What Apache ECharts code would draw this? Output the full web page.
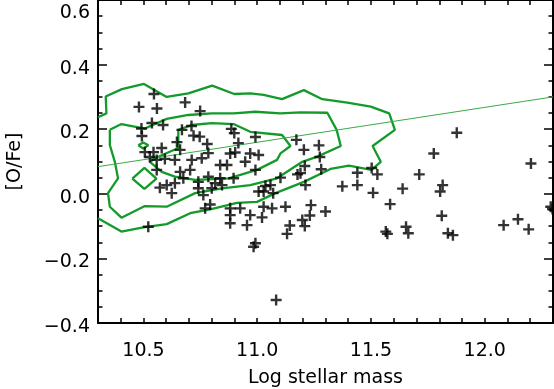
<!DOCTYPE html>
<html>
<head>
<meta charset="utf-8">
<script src="https://cdn.jsdelivr.net/npm/echarts@6/dist/echarts.min.js"></script>
<style>
html,body{margin:0;padding:0;background:#fff;}
#chart{width:554px;height:389px;}
</style>
</head>
<body>
<div id="chart"></div>
<script>
// ---- data ----
const xTickLabels = ['10.5', '11.0', '11.5', '12.0'];
const yTickLabels = ['−0.4', '−0.2', '0.0', '0.2', '0.4', '0.6'];

// galaxies: log stellar mass and [O/Fe]
const logMass = [
  10.546, 10.480, 10.559, 10.683, 10.749, 10.537, 10.586, 10.491, 10.493, 10.647,
  10.669, 10.711, 10.720, 10.747, 10.780, 10.886, 10.899, 10.917, 10.992, 10.580,
  10.506, 10.528, 10.544, 10.558, 10.594, 10.638, 10.661, 10.558, 10.712, 10.756,
  10.785, 10.837, 10.867, 10.881, 10.903, 10.947, 10.969, 11.006, 10.661, 10.705,
  10.675, 10.572, 10.602, 10.638, 10.624, 10.741, 10.785, 10.815, 10.837, 10.845,
  10.800, 10.741, 10.763, 10.896, 10.992, 10.771, 10.793, 10.881, 10.881, 10.881,
  10.925, 10.969, 10.955, 10.521, 11.006, 11.028, 11.036, 11.058, 11.070, 11.028,
  11.021, 11.065, 11.124, 11.143, 11.131,
  11.172, 11.205, 11.271, 11.275, 11.209, 11.281, 11.177, 11.190, 11.102, 11.212,
  11.374, 11.440, 11.440, 11.503, 11.528, 11.509, 11.639, 11.712, 11.776, 11.877,
  11.815, 11.804, 11.584, 11.811, 11.236, 11.300, 11.231, 11.198, 11.209, 11.565,
  11.572, 11.654, 11.664, 11.838, 11.860, 12.083, 12.146, 12.193, 12.203, 12.290,
  12.298, 10.984, 10.992, 11.083
];
const oFe = [
  0.309, 0.269, 0.264, 0.283, 0.256, 0.219, 0.213, 0.202, 0.179, 0.160,
  0.198, 0.210, 0.180, 0.177, 0.154, 0.201, 0.188, 0.157, 0.176, 0.142,
  0.129, 0.114, 0.129, 0.105, 0.108, 0.105, 0.136, 0.074, 0.105, 0.110,
  0.126, 0.089, 0.089, 0.125, 0.128, 0.099, 0.125, 0.120, 0.068, 0.074,
  0.048, 0.019, 0.027, 0.033, 0.002, 0.037, 0.053, 0.033, 0.048, 0.027,
  0.017, 0.017, -0.004, 0.048, 0.074, -0.045, -0.033, -0.045, -0.066, -0.091,
  -0.045, -0.066, -0.097, -0.102, 0.007, 0.007, 0.024, 0.027, 0.002, -0.040,
  -0.073, -0.045, -0.040, -0.098, -0.124,
  0.167, 0.136, 0.150, 0.114, 0.086, 0.076, 0.060, 0.064, 0.050, 0.027,
  0.023, 0.027, 0.065, 0.080, 0.060, 0.003, 0.016, 0.060, 0.125, 0.189,
  0.027, 0.007, -0.032, -0.068, -0.035, -0.055, -0.067, -0.081, -0.100, -0.117,
  -0.124, -0.102, -0.122, -0.122, -0.128, -0.097, -0.079, -0.110, 0.094, -0.040,
  -0.047, -0.164, -0.153, -0.329
];

// density contours of the comparison sample (mass, [O/Fe])
const contourOuter = [
  [10.300, 0.237], [10.337, 0.249], [10.334, 0.301], [10.405, 0.324], [10.502, 0.340],
  [10.602, 0.300], [10.697, 0.311], [10.802, 0.335], [10.899, 0.309], [10.969, 0.311],
  [11.028, 0.306], [11.109, 0.293], [11.205, 0.321], [11.286, 0.293], [11.396, 0.282],
  [11.499, 0.270], [11.580, 0.249], [11.605, 0.198], [11.507, 0.148], [11.543, 0.099],
  [11.502, 0.074], [11.403, 0.087], [11.322, 0.077], [11.205, 0.037], [11.080, 0.002],
  [10.999, -0.025], [10.911, -0.028], [10.793, -0.048], [10.705, -0.060], [10.602, -0.094],
  [10.499, -0.104], [10.403, -0.117], [10.300, -0.076]
];
const contourMiddle = [
  [10.352, 0.198], [10.403, 0.216], [10.506, 0.202], [10.602, 0.232], [10.697, 0.244],
  [10.800, 0.249], [10.896, 0.249], [10.992, 0.254], [11.102, 0.249], [11.190, 0.252],
  [11.308, 0.251], [11.349, 0.198], [11.367, 0.148], [11.264, 0.115], [11.198, 0.099],
  [11.087, 0.048], [10.969, 0.027], [10.845, 0.017], [10.727, 0.002], [10.602, -0.040],
  [10.506, -0.038], [10.403, -0.074], [10.352, -0.040], [10.344, 0.002], [10.388, 0.048],
  [10.374, 0.099], [10.352, 0.151], [10.352, 0.198]
];
const contourInner = [
  [10.653, 0.198], [10.712, 0.213], [10.800, 0.219], [10.896, 0.216], [10.969, 0.192],
  [11.109, 0.182], [11.146, 0.148], [11.102, 0.125], [11.087, 0.105], [10.999, 0.074],
  [10.874, 0.048], [10.727, 0.043], [10.638, 0.053], [10.580, 0.068], [10.528, 0.099],
  [10.563, 0.114], [10.653, 0.142], [10.653, 0.198]
];
const islandA = [[10.451, 0.047], [10.504, 0.080], [10.557, 0.047], [10.504, 0.015], [10.451, 0.047]];
const islandB = [[10.477, 0.150], [10.499, 0.159], [10.521, 0.150], [10.499, 0.140], [10.477, 0.150]];

// linear relation
const fitLine = [[10.3, 0.084], [12.3, 0.300]];

// ---- chart ----
const FONT = 'DejaVu Sans';
const GREEN = '#149a2b';
const plus = 'path://M4.3,0H6.7V4.3H11V6.7H6.7V11H4.3V6.7H0V4.3H4.3Z';

const points = logMass.map((m, i) => [m, oFe[i]]);

function contour(data) {
  return {
    type: 'line', data: data, showSymbol: false, symbol: 'none', silent: true,
    lineStyle: { color: GREEN, width: 2.3 }, z: 3, clip: true
  };
}

const axisLineStyle = { color: '#000', width: 2 };

const chart = echarts.init(document.getElementById('chart'), null, { renderer: 'canvas' });
chart.setOption({
  animation: false,
  backgroundColor: '#fff',
  grid: { left: 98, right: 1, top: 0, bottom: 66, containLabel: false, outerBoundsMode: 'none' },
  xAxis: [
    {
      type: 'value', position: 'bottom', min: 10.3, max: 12.3, interval: 0.1,
      axisLine: { show: true, onZero: false, lineStyle: axisLineStyle },
      axisTick: { show: true, inside: true, length: 5, lineStyle: { color: '#000', width: 1.5 } },
      splitLine: { show: false },
      axisLabel: {
        margin: 19, color: '#000', fontFamily: FONT, fontSize: 19,
        showMinLabel: true, showMaxLabel: true,
        formatter: function (v) {
          const s = (Math.round(v * 10) / 10).toFixed(1);
          return xTickLabels.indexOf(s) >= 0 ? s : '';
        }
      },
      name: 'Log stellar mass', nameLocation: 'middle', nameGap: 46,
      nameTextStyle: { color: '#000', fontFamily: FONT, fontSize: 19 }
    },
    {
      type: 'value', position: 'top', min: 10.3, max: 12.3, interval: 0.1,
      axisLine: { show: true, onZero: false, lineStyle: axisLineStyle },
      axisTick: { show: true, inside: true, length: 5, lineStyle: { color: '#000', width: 1.5 } },
      splitLine: { show: false }, axisLabel: { show: false }
    }
  ],
  yAxis: [
    {
      type: 'value', position: 'left', min: -0.4, max: 0.6, interval: 0.2,
      axisLine: { show: true, onZero: false, lineStyle: axisLineStyle },
      axisTick: { show: true, inside: true, length: 9, lineStyle: { color: '#000', width: 1.5 } },
      minorTick: { show: true, splitNumber: 4, length: 4.5, lineStyle: { color: '#000', width: 1.5 } },
      splitLine: { show: false }, minorSplitLine: { show: false },
      axisLabel: {
        margin: 8, color: '#000', fontFamily: FONT, fontSize: 19,
        formatter: function (v) {
          const idx = Math.round((v + 0.4) / 0.2);
          const s = yTickLabels[idx];
          return idx === yTickLabels.length - 1 ? '{t|' + s + '}' : '{n|' + s + '}';
        },
        rich: {
          t: { fontFamily: FONT, fontSize: 19, color: '#000', padding: [26, 0, 0, 0] },
          n: { fontFamily: FONT, fontSize: 19, color: '#000', padding: [8, 0, 0, 0] }
        }
      },
      name: '[O/Fe]', nameLocation: 'middle', nameGap: 73, nameRotate: 90,
      nameTextStyle: { color: '#000', fontFamily: FONT, fontSize: 19 }
    },
    {
      type: 'value', position: 'right', min: -0.4, max: 0.6, interval: 0.2,
      axisLine: { show: true, onZero: false, lineStyle: axisLineStyle },
      axisTick: { show: true, inside: true, length: 9, lineStyle: { color: '#000', width: 1.5 } },
      minorTick: { show: true, splitNumber: 4, length: 4.5, lineStyle: { color: '#000', width: 1.5 } },
      splitLine: { show: false }, minorSplitLine: { show: false },
      axisLabel: { show: false }
    }
  ],
  series: [
    contour(contourOuter),
    contour(contourMiddle),
    contour(contourInner),
    contour(islandA),
    contour(islandB),
    {
      type: 'line', data: fitLine, showSymbol: false, symbol: 'none', silent: true,
      lineStyle: { color: '#3aaa48', width: 1 }, z: 3, clip: true
    },
    {
      type: 'scatter', data: points, symbol: plus, symbolSize: 11,
      itemStyle: { color: '#000' }, z: 5, clip: true
    }
  ]
});
</script>
</body>
</html>
